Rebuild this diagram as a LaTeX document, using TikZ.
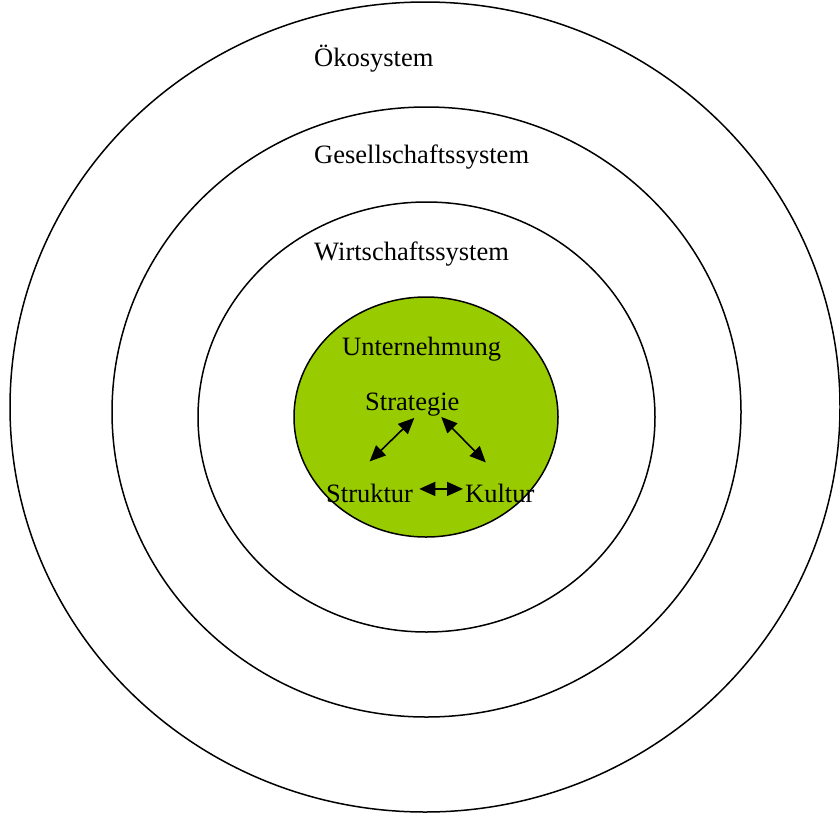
\documentclass[tikz,border=0pt]{standalone}
\usepackage{fontspec}
\setmainfont{Liberation Serif}
\usepackage{tikz}
\usetikzlibrary{calc,arrows.meta}
\definecolor{firmgreen}{RGB}{153,204,0}
\begin{document}
\begin{tikzpicture}[x=1pt,y=-1pt]
\tikzstyle{ring}=[draw=black,line width=1.5pt]
\tikzstyle{label}=[anchor=base west,inner sep=0pt,font=\fontsize{26.5}{30}\selectfont]
\tikzstyle{link}=[line width=1.6pt,{Triangle[length=16pt,width=14pt]}-{Triangle[length=16pt,width=14pt]}]
\useasboundingbox (0,0) rectangle (840,814);
% rings, outside in
\foreach \cx/\cy/\rx/\ry in {
	425/407/415/405,
	426.5/412/314.5/305,
	426.5/417/228.5/215}
	\draw[ring] (\cx,\cy) ellipse [x radius=\rx, y radius=\ry];
\draw[ring,fill=firmgreen] (426,417) ellipse [x radius=132, y radius=120];
\foreach \name/\point/\text in {
	oeko/{314,66}/{Ökosystem},
	gesell/{314,163}/{Gesellschaftssystem},
	wirt/{314,260}/{Wirtschaftssystem},
	unter/{342,355}/{Unternehmung},
	strat/{365,410}/{Strategie},
	strukt/{326,502}/{Struktur},
	kult/{465,502}/{Kultur}}
	\node[label] (\name) at (\point) {\text};
\draw[link] ($(strat.south)+(2,2)$) -- ($(strukt.north)+(0,-22)$);
\draw[link] ($(strat.south)+(29,1)$) -- ($(kult.north)+(-14,-21)$);
\draw[link] ($(strukt.east)+(6,-4)$) -- ($(kult.west)+(-2,-4)$);
\end{tikzpicture}
\end{document}
